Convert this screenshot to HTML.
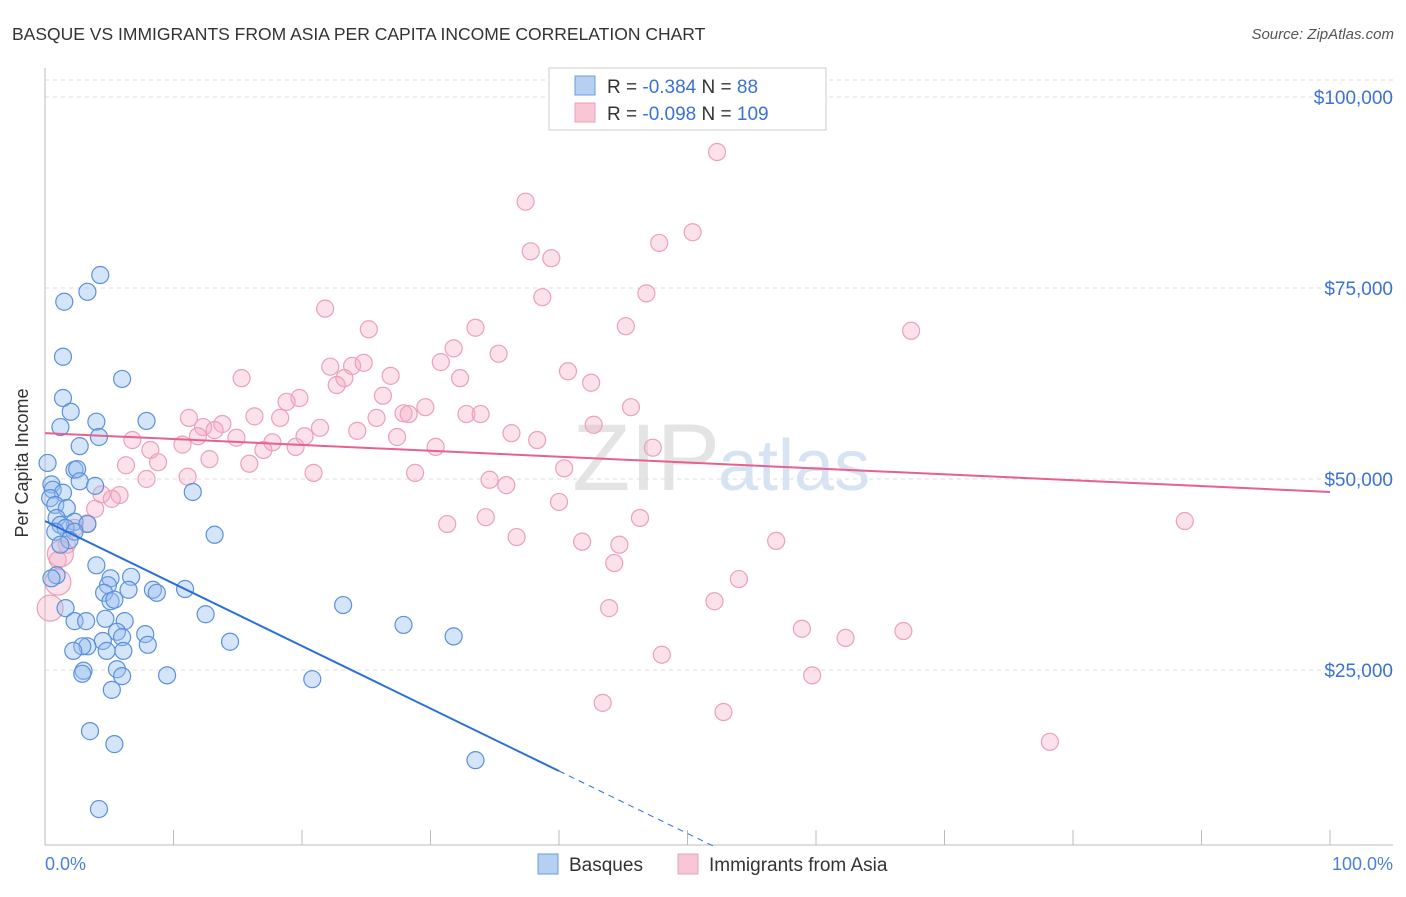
<!DOCTYPE html>
<html><head><meta charset="utf-8"><style>
body{margin:0;background:#fff;font-family:"Liberation Sans",sans-serif}
svg text{font-family:"Liberation Sans",sans-serif}
</style></head><body>
<svg width="1406" height="892" xmlns="http://www.w3.org/2000/svg">
<text x="12" y="40" font-size="17.5" fill="#333">BASQUE VS IMMIGRANTS FROM ASIA PER CAPITA INCOME CORRELATION CHART</text>
<text x="1394" y="39" font-size="15" fill="#555" font-style="italic" text-anchor="end">Source: ZipAtlas.com</text>
<text x="720" y="490" font-size="95" fill="#e4e4e4" text-anchor="end" font-family="Liberation Serif">ZIP</text>
<text x="718" y="490" font-size="72" fill="#d6e3f3">atlas</text>
<g id="grid"></g>
<line x1="45" y1="68" x2="45" y2="845" stroke="#bbb"/>
<line x1="45" y1="845" x2="1393" y2="845" stroke="#bbb"/>
<text x="20" y="455" font-size="18" fill="#333" text-anchor="middle" transform="rotate(-90 28 455)">Per Capita Income</text>
<text x="45" y="870" font-size="18" fill="#4a80d8">0.0%</text>
<text x="1393" y="870" font-size="18" fill="#4a80d8" text-anchor="end">100.0%</text>
<g id="pts"></g>
<g id="lines"></g>
<g>
<rect x="549" y="68" width="277" height="62" fill="#fff" stroke="#ccc"/>
<rect x="575" y="76" width="20" height="19" fill="#b6d0f2" stroke="#6b9be0"/>
<rect x="575" y="103" width="20" height="19" fill="#f9c6d5" stroke="#eaa0b9"/>
<text x="607" y="93" font-size="19" fill="#333">R = <tspan fill="#3a72d4">-0.384</tspan>   N = <tspan fill="#3a72d4"> 88</tspan></text>
<text x="607" y="120" font-size="19" fill="#333">R = <tspan fill="#3a72d4">-0.098</tspan>   N = <tspan fill="#3a72d4">109</tspan></text>
</g>
<g>
<rect x="538" y="854" width="20" height="20" fill="#b6d0f2" stroke="#6b9be0"/>
<text x="569" y="871" font-size="19" fill="#333">Basques</text>
<rect x="678" y="854" width="20" height="20" fill="#f9c6d5" stroke="#eaa0b9"/>
<text x="709" y="871" font-size="19" fill="#333">Immigrants from Asia</text>
</g>
</svg>
<script>
const yTicks=[25000,50000,75000,100000];
const yTickLabels=["$25,000","$50,000","$75,000","$100,000"];
const xTicks=[0,10,20,30,40,50,60,70,80,90,100];
const blueX=[4.3,3.3,1.5,1.4,6.0,1.4,2.0,4.0,7.9,1.2,4.2,2.7,0.2,2.3,2.5,2.7,0.5,3.9,11.5,0.6,1.4,0.4,0.8,1.7,0.9,2.3,3.3,1.2,1.6,0.8,2.3,13.2,1.9,1.2,4.0,0.9,5.1,6.7,4.9,4.6,6.5,8.4,8.7,10.9,5.1,5.4,23.2,1.6,12.5,4.7,6.2,2.3,3.2,27.9,5.6,7.8,6.0,31.8,14.4,4.5,8.0,3.3,2.9,2.2,4.8,6.1,5.6,3.0,2.9,6.0,9.5,20.8,5.2,3.5,5.4,33.5,4.2,0.5];
const blueY=[76700,74500,73200,66000,63100,60600,58800,57500,57600,56800,55500,54300,52100,51200,51300,49700,49300,49100,48300,48600,48200,47500,46600,46200,44900,44400,44100,44000,43600,43100,43100,42700,42000,41400,38700,37400,37000,37200,36100,35100,35500,35500,35100,35600,34000,34200,33500,33100,32300,31700,31400,31400,31400,30900,30000,29700,29300,29400,28700,28800,28300,28100,28100,27500,27500,27500,25100,24900,24500,24200,24300,23800,22400,17000,15300,13200,6800,37000];
const pinkX=[52.3,37.4,50.4,37.8,47.8,39.4,38.7,46.8,21.8,45.2,33.5,25.2,67.4,31.8,35.3,22.2,23.9,24.8,30.8,23.3,15.3,26.9,40.7,42.5,22.7,32.3,26.3,19.8,18.8,45.6,29.6,27.9,28.3,25.8,32.8,33.9,11.2,16.3,18.3,13.8,12.3,42.7,21.4,13.2,24.3,27.4,36.3,38.3,14.9,11.9,20.2,6.8,17.7,10.7,8.2,47.3,19.5,30.4,17.0,12.8,8.8,15.9,6.3,20.9,28.8,40.4,11.1,34.6,7.9,35.9,4.4,5.8,5.2,40.0,3.9,34.3,46.3,31.3,3.3,2.3,36.7,56.9,41.8,44.7,88.7,1.7,44.3,1.0,54.0,52.1,43.9,58.9,62.3,66.8,48.0,59.7,43.4,52.8,78.2,1.0,0.4,1.2];
const pinkY=[92800,86300,82300,79800,80900,78900,73800,74300,72300,70000,69800,69600,69400,67100,66400,64700,64800,65200,65300,63200,63200,63500,64100,62600,62300,63200,60900,60600,60100,59400,59400,58600,58500,58000,58500,58500,58000,58200,58000,57200,56800,57100,56700,56400,56300,55500,56000,55100,55400,55600,55600,55100,54800,54500,53800,54100,54200,54200,53800,52600,52200,52000,51800,50800,50800,51400,50300,49900,50000,49200,48000,47900,47400,47000,46100,45000,44900,44100,44200,43600,42400,41900,41800,41400,44500,41400,39000,39400,36900,34000,33100,30400,29200,30100,27000,24300,20700,19500,15600,36500,33100,40200];
const blueTrend=[44500,-818];
const pinkTrend=[56000,-77];
const NS="http://www.w3.org/2000/svg";
const X=v=>45+v*12.85, Y=v=>861-v/25000*191;
function mk(t,a,p){const e=document.createElementNS(NS,t);for(const k in a)e.setAttribute(k,a[k]);p.appendChild(e);return e;}
const grid=document.getElementById('grid');
yTicks.forEach((t,i)=>{
 const l=mk('line',{x1:45,x2:1393,y1:Y(t),y2:Y(t),stroke:'#ddd','stroke-dasharray':'4,4'},grid);
 
 
 const tx=mk('text',{x:1393,y:Y(t)+7,'font-size':19,fill:'#3a72d4','text-anchor':'end'},grid);
 tx.textContent=yTickLabels[i];
 
 
});
const gl=mk('line',{x1:45,x2:1393,y1:80,y2:80,stroke:'#ddd','stroke-dasharray':'4,4'},grid);
xTicks.forEach(t=>{
 const l=mk('line',{x1:X(t),x2:X(t),y1:830,y2:845,stroke:'#bbb'},grid);
 
 
});
const pts=document.getElementById('pts');
pinkX.forEach((x,i)=>{
 const r=(x<1.5&&i>=99)?13:8.5;
 const c=mk('circle',{cx:X(x),cy:Y(pinkY[i]),r:r,fill:'rgba(244,170,195,0.35)',stroke:'#eca0ba','stroke-width':1.2},pts);
 
 
});
blueX.forEach((x,i)=>{
 const c=mk('circle',{cx:X(x),cy:Y(blueY[i]),r:8.5,fill:'rgba(150,190,240,0.4)',stroke:'#5b90dc','stroke-width':1.2},pts);
 
 
});
const ln=document.getElementById('lines');
const bt=v=>blueTrend[0]+blueTrend[1]*v, pt=v=>pinkTrend[0]+pinkTrend[1]*v;
let a=mk('line',{x1:X(0),y1:Y(bt(0)),x2:X(40),y2:Y(bt(40)),stroke:'#2a6fd8','stroke-width':2},ln);


a=mk('line',{x1:X(40),y1:Y(bt(40)),x2:X(52.2),y2:Y(bt(52.2)),stroke:'#2a6fd8','stroke-width':1,'stroke-dasharray':'6,5'},ln);


a=mk('line',{x1:X(0),y1:Y(pt(0)),x2:X(100),y2:Y(pt(100)),stroke:'#e8608e','stroke-width':2},ln);


</script>
</body></html>
